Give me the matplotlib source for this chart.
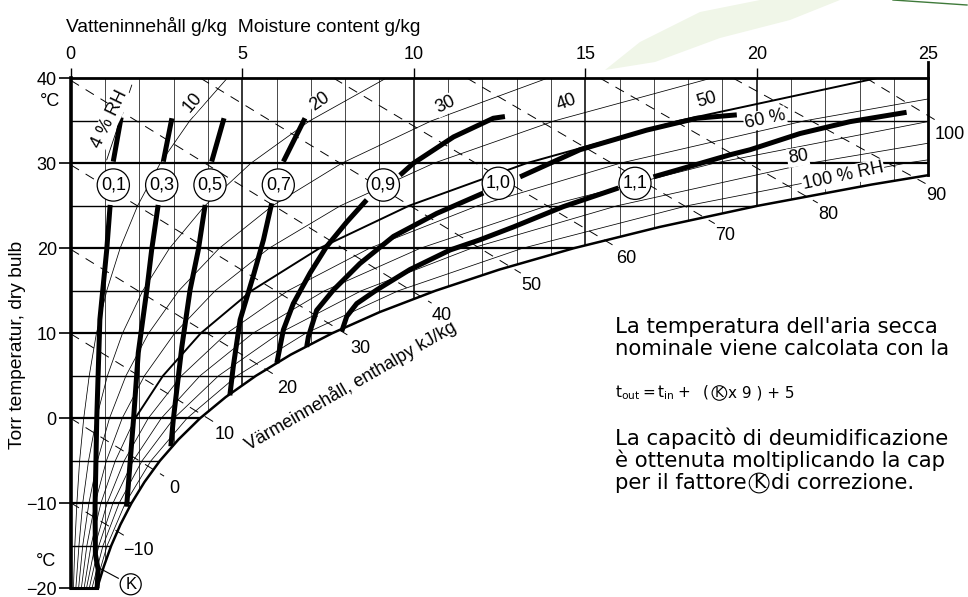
import matplotlib
matplotlib.use('Agg')
import matplotlib.pyplot as plt
from matplotlib.patches import Polygon
import numpy as np

plt.rcParams['font.family'] = ['Liberation Sans', 'DejaVu Sans']

####################
# DATA  (moisture g/kg, dry bulb degC)
# saturation curve, 100 % RH
sat_t = [-20, -17.5, -15, -12.5, -10, -7.5, -5, -2.5, 0, 2.5, 5, 7.5, 10,
         12.5, 15, 17.5, 20, 22.5, 25, 27.5, 28.6]
sat_x = [0.77, 0.96, 1.18, 1.45, 1.77, 2.15, 2.60, 3.14, 3.77, 4.52, 5.40,
         6.42, 7.62, 9.01, 10.63, 12.50, 14.66, 17.16, 20.03, 23.35, 25.0]

# relative humidity lines
rh_t = [-20, -15, -10, -5, 0, 5, 10, 15, 20, 25, 30, 35, 40]
rh10 = [0.08, 0.12, 0.18, 0.26, 0.38, 0.54, 0.75, 1.05, 1.44, 1.95, 2.61, 3.47, 4.56]
rh20 = [0.15, 0.24, 0.35, 0.52, 0.75, 1.07, 1.51, 2.10, 2.88, 3.91, 5.25, 6.97, 9.19]
rh30 = [0.23, 0.35, 0.53, 0.78, 1.13, 1.61, 2.27, 3.15, 4.33, 5.88, 7.90, 10.52, 13.89]
rh40 = [0.31, 0.47, 0.71, 1.04, 1.50, 2.15, 3.03, 4.21, 5.78, 7.86, 10.58, 14.11, 18.66]
rh50 = [0.39, 0.59, 0.88, 1.30, 1.88, 2.69, 3.79, 5.27, 7.25, 9.86, 13.28, 17.73, 23.48]
rh60 = [0.46, 0.71, 1.06, 1.56, 2.26, 3.23, 4.55, 6.33, 8.71, 11.86, 16.01, 21.40, 28.40]
rh70 = [0.54, 0.82, 1.23, 1.82, 2.64, 3.77, 5.31, 7.40, 10.19, 13.89, 18.75, 25.11, 33.39]
rh80 = [0.62, 0.94, 1.41, 2.08, 3.01, 4.31, 6.08, 8.47, 11.68, 15.93, 21.53, 28.87, 38.45]
rh90 = [0.70, 1.06, 1.59, 2.34, 3.39, 4.85, 6.85, 9.55, 13.17, 17.97, 24.32, 32.66, 43.60]
rh_levels = [10, 20, 30, 40, 50, 60, 70, 80, 90]
rh_lines = [rh10, rh20, rh30, rh40, rh50, rh60, rh70, rh80, rh90]
rh4_t = [30.4, 39.2]
rh4_x = [1.05, 1.78]

# enthalpy lines kJ/kg, from chart edge to saturation curve
h_vals = [-10, 0, 10, 20, 30, 40, 50, 60, 70, 80, 90, 100]
h_x0 = [0, 0, 0, 0, 0, 0, 3.79, 7.67, 11.56, 15.44, 19.32, 23.2]
h_t0 = [-9.94, 0, 9.94, 19.88, 29.82, 39.76, 40, 40, 40, 40, 40, 40]
h_x1 = [1.36, 2.40, 3.87, 5.69, 7.83, 10.2, 12.8, 15.57, 18.45, 21.45, 24.59, 25.0]
h_t1 = [-13.3, -6.0, 0.32, 5.75, 10.4, 14.35, 17.87, 20.95, 23.68, 26.1, 28.35, 35.6]

# correction factor K curves (upper part above label, lower part below)
k_labels = ['0,1', '0,3', '0,5', '0,7', '0,9', '1,0', '1,1']
k_up_x = [[1.24, 1.47], [2.70, 2.95], [4.11, 4.47], [6.20, 6.83],
          [9.60, 9.99, 11.16, 12.32, 12.66],
          [13.10, 14.85, 16.79, 18.25, 19.42],
          [16.99, 19.22, 19.81, 21.26, 22.72, 24.37]]
k_up_t = [[30.2, 35.4], [30.2, 35.3], [30.2, 35.3], [30.2, 35.3],
          [28.6, 30.0, 33.1, 35.3, 35.5],
          [28.4, 31.6, 33.9, 35.3, 35.7],
          [28.4, 31.0, 31.6, 33.5, 34.9, 36.0]]
k_lo_x = [[1.15, 1.05, 0.85, 0.76, 0.71, 0.72, 0.80, 0.77],
          [2.55, 2.36, 2.22, 1.97, 1.83, 1.73, 1.63],
          [3.92, 3.72, 3.48, 3.24, 2.99, 2.92],
          [5.86, 5.62, 5.32, 4.94, 4.74, 4.64],
          [8.63, 8.05, 7.46, 6.98, 6.49, 6.20, 6.01],
          [12.03, 10.67, 9.41, 8.43, 7.66, 7.17, 6.93, 6.88],
          [15.97, 14.36, 12.90, 11.93, 11.06, 9.89, 8.92, 8.34, 8.05, 7.90]]
k_lo_t = [[25.1, 19.8, 11.6, 0.0, -10.4, -16.0, -17.8, -20],
          [25.1, 19.8, 15.1, 7.7, -0.2, -5.3, -10.4],
          [25.1, 19.8, 15.1, 8.4, -0.2, -3.3],
          [25.3, 21.0, 16.7, 11.6, 6.1, 2.7],
          [25.7, 23.1, 20.2, 17.1, 13.5, 10.4, 6.5],
          [26.5, 24.1, 21.4, 18.2, 15.1, 12.7, 9.6, 8.4],
          [27.1, 24.9, 22.5, 21.0, 19.8, 17.5, 15.1, 13.5, 12.0, 10.2]]
####################

W, H = 968, 597
X0, X1 = 70.7, 928.2      # pixel columns of 0 and 25 g/kg
Y0, Y1 = 78.3, 588.3      # pixel rows of 40 and -20 degC

fig = plt.figure(figsize=(W / 100, H / 100), dpi=100)
ax = fig.add_axes([X0 / W, 1 - Y1 / H, (X1 - X0) / W, (Y1 - Y0) / H])
ax.set_xlim(0, 25)
ax.set_ylim(-20, 40)


def px(xp, yp):
    # image pixel -> data
    return (xp - X0) / (X1 - X0) * 25, 40 - (yp - Y0) / (Y1 - Y0) * 60


def fp(xp, yp):
    # image pixel -> figure fraction
    return xp / W, 1 - yp / H


# clip region: left of / above the saturation curve
verts = [(0, -20), (0, 40), (25, 40)] + list(zip(sat_x[::-1], sat_t[::-1]))
region = Polygon(verts, closed=True, fc='none', ec='none')
ax.add_patch(region)

# grid
for xv in range(1, 25):
    ln, = ax.plot([xv, xv], [-20, 40], color='k', lw=1.1 if xv % 5 == 0 else 0.5)
    ln.set_clip_path(region)
for tv in range(-15, 40, 5):
    ln, = ax.plot([0, 25], [tv, tv], color='k', lw=1.6 if tv % 10 == 0 else 1.0)
    ln.set_clip_path(region)

# RH lines (50 % drawn heavier above 0 degC)
i0 = rh_t.index(0)
for lev, xs in zip(rh_levels, rh_lines):
    if lev == 50:
        ln, = ax.plot(xs[:i0 + 1], rh_t[:i0 + 1], color='k', lw=0.55)
        ln.set_clip_path(region)
        ln, = ax.plot(xs[i0:], rh_t[i0:], color='k', lw=1.4)
    else:
        ln, = ax.plot(xs, rh_t, color='k', lw=0.55)
    ln.set_clip_path(region)
ax.plot(rh4_x, rh4_t, color='k', lw=0.6)

# saturation curve and frame
ax.plot(sat_x, sat_t, color='k', lw=1.8, clip_on=False, zorder=4)
ax.plot([25, 25], [sat_t[-1], 41.9], color='k', lw=2, clip_on=False, zorder=4)
ax.plot([0, sat_x[0]], [-20, -20], color='k', lw=2.2, clip_on=False, zorder=4)
for s in ['right', 'bottom']:
    ax.spines[s].set_visible(False)
ax.spines['left'].set_linewidth(2.6)
ax.spines['top'].set_linewidth(2.0)

# enthalpy lines, dashed, a bit past the saturation curve
for h, xa, ta, xb, tb in zip(h_vals, h_x0, h_t0, h_x1, h_t1):
    p0 = ax.transData.transform((xa, ta))
    p1 = ax.transData.transform((xb, tb))
    d = (p1 - p0) / np.hypot(*(p1 - p0))
    e = ax.transData.inverted().transform(p1 + d * 13)
    ax.plot([xa, e[0]], [ta, e[1]], color='k', lw=0.7, ls=(0, (10, 8)),
            clip_on=False, zorder=3)
    lab = ax.transData.inverted().transform(p1 + d * 19 + np.array([5, -9]))
    txt = str(h).replace('-', '\u2212')
    ax.text(lab[0], lab[1], txt, fontsize=13, ha='center', va='center',
            clip_on=False)

# K curves
for lab, ux, ut, lx, lt in zip(k_labels, k_up_x, k_up_t, k_lo_x, k_lo_t):
    ax.plot(ux, ut, color='k', lw=3.6, solid_capstyle='butt', zorder=5)
    ax.plot(lx, lt, color='k', lw=3.6, solid_capstyle='butt', zorder=5,
            clip_on=False)
k_pos = [(113.3, 185), (161.7, 185), (210, 185), (278.3, 185), (383.3, 185),
         (498.3, 183.3), (635, 183.3)]
for lab, (xp, yp) in zip(k_labels, k_pos):
    ax.text(*px(xp, yp), lab, fontsize=13, ha='center', va='center', zorder=7,
            bbox=dict(boxstyle='circle,pad=0.2', fc='white', ec='k', lw=0.9))
# K marker at bottom
ax.plot([0.758, 1.388], [-17.46, -18.82], color='k', lw=0.8, clip_on=False)
ax.text(*px(130.7, 584.3), 'K', fontsize=12, ha='center', va='center',
        zorder=7, clip_on=False,
        bbox=dict(boxstyle='circle,pad=0.18', fc='white', ec='k', lw=0.9))

# RH labels
wb = dict(boxstyle='square,pad=0.05', fc='white', ec='none')
rh_labels = [('4 % RH', 110, 119, 64), ('10', 193, 102, 50), ('20', 320, 102, 35),
             ('30', 445, 105, 26), ('40', 567, 102, 20), ('50', 707, 100, 16),
             ('60 %', 765, 119, 12), ('80', 798, 157, 9), ('100 % RH', 843, 176, 12)]
for s, xp, yp, rot in rh_labels:
    ax.text(*px(xp, yp), s, fontsize=13, rotation=rot, rotation_mode='anchor',
            ha='center', va='center', bbox=wb, zorder=6, clip_on=False)

ax.text(*px(350, 386), 'Värmeinnehåll, enthalpy kJ/kg', fontsize=13,
        rotation=30, rotation_mode='anchor', ha='center', va='center')

# axes ticks
ax.xaxis.tick_top()
ax.set_xticks(range(0, 26, 5))
ax.set_yticks(range(-20, 41, 10))
ax.tick_params(axis='x', length=7.5, width=1.0, pad=3.5, labelsize=13)
ax.tick_params(axis='y', length=8.5, width=1.2, pad=1.5, labelsize=13)

fig.text(*fp(66, 27), 'Vatteninnehåll g/kg  Moisture content g/kg',
         fontsize=13.8, ha='left', va='center')
fig.text(*fp(18, 345), 'Torr temperatur, dry bulb', fontsize=13.8,
         rotation=90, ha='center', va='center')
fig.text(*fp(50, 101), '°C', fontsize=13, ha='center', va='center')
fig.text(*fp(46, 562), '°C', fontsize=13, ha='center', va='center')

# faint logo at top
leaf = Polygon([fp(605, 70), fp(640, 42), fp(700, 12), fp(760, 0), fp(840, 0),
                fp(790, 20), fp(720, 38), fp(655, 62)],
               closed=True, transform=fig.transFigure, fc='#f0f6e8', ec='none',
               zorder=-5)
fig.add_artist(leaf)
fig.add_artist(plt.Line2D([893 / W, 967 / W], [1, 1 - 5 / H], color='#3f7a3a',
                          lw=1.0, transform=fig.transFigure))

# text block on the right
tf = ['DejaVu Sans']
fs = 15.3
rend = fig.canvas.get_renderer()


def put_line(xp, yp, parts, size):
    # parts: plain strings, or ('K',) for a circled K
    for part in parts:
        if isinstance(part, tuple):
            t = fig.text(*fp(xp, yp), part[0], fontsize=size * 0.9, family=tf,
                         va='center', ha='center')
            bb = t.get_window_extent(rend)
            r = bb.height / 2 + 1
            t.set_position(fp(xp + r + 1, yp))
            t.set_bbox(dict(boxstyle='circle,pad=0.02', fc='white', ec='k', lw=0.8))
            xp = xp + 2 * r + 2
        else:
            t = fig.text(*fp(xp, yp), part, fontsize=size, family=tf, va='center')
            xp = t.get_window_extent(rend).x1 + 1


put_line(615, 327, ["La temperatura dell'aria secca"], fs)
put_line(615, 349, ["nominale viene calcolata con la"], fs)
put_line(615, 393, [r'$\mathregular{t_{out} = t_{in} +\ \ (}$', ('K',), 'x 9 ) + 5'], 11)
put_line(615, 438, ['La capacitò di deumidificazione'], fs)
put_line(615, 460, ['è ottenuta moltiplicando la cap'], fs)
put_line(615, 483, ['per il fattore', ('K',), 'di correzione.'], fs)

fig.savefig('out.png', dpi=100)
